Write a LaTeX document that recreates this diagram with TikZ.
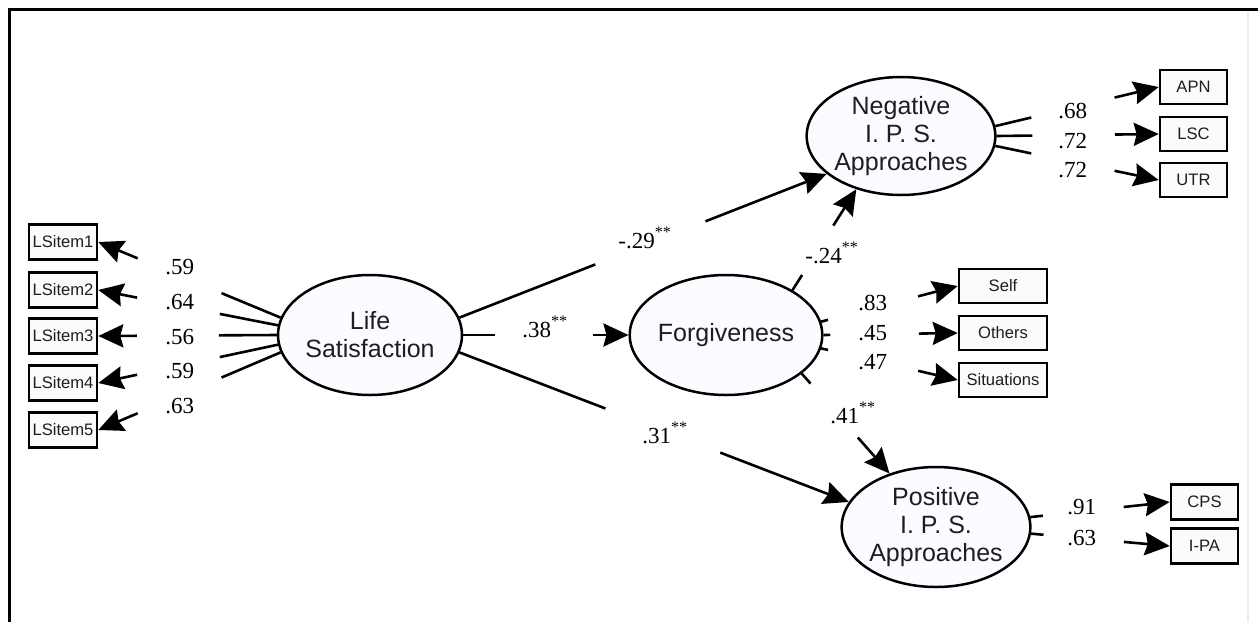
\documentclass[tikz,border=0pt]{standalone}
\usepackage{fontspec}
\setmainfont{Liberation Serif}
\newfontfamily\arialf{Liberation Sans}
\usetikzlibrary{shapes.geometric,arrows.meta,calc}
\definecolor{latfill}{RGB}{251,252,255}
\definecolor{obsfill}{RGB}{250,251,253}
\definecolor{txtgray}{RGB}{30,30,30}
\newcommand{\starsig}{\raisebox{5.5pt}{\fontsize{8}{8}\selectfont **}}
\tikzset{
  lat/.style={ellipse, draw, line width=1.25pt, fill=latfill, minimum width=92pt, minimum height=60pt,
    inner sep=0pt, align=center, text=txtgray, font=\arialf\fontsize{12.5}{14}\selectfont},
  obs/.style={rectangle, draw, line width=1.3pt, fill=obsfill, minimum height=17.5pt, inner sep=0pt,
    text=txtgray, font=\arialf\fontsize{8.3}{9}\selectfont},
  coef/.style={anchor=base west, inner sep=0pt, font=\fontsize{11.5}{12}\selectfont},
  ln/.style={line width=1.3pt},
  arr/.style={line width=1.3pt, -{Stealth[length=12.5pt,width=11.5pt,inset=1.5pt]}}
}
\begin{document}
\begin{tikzpicture}[x=0.5pt,y=-0.5pt]
\useasboundingbox (0,0) rectangle (1258,622);
% frame
\draw[line width=1.5pt] (8,9.5) -- (1258,9.5);
\draw[line width=1.5pt] (9.5,9.5) -- (9.5,622);
\draw[black!8, line width=1pt] (1248,12) -- (1248,622);

% latent variables
\node[lat] (ls) at (370,335) {Life\\Satisfaction};
\node[lat] (fg) at (726,335) {Forgiveness};
\node[lat, minimum height=59pt] (ng) at (901,136) {Negative\\I. P. S.\\Approaches};
\node[lat, minimum width=94pt] (ps) at (936,527) {Positive\\I. P. S.\\Approaches};

% observed variables
\node[obs, minimum width=34pt] (i1) at (63,242) {LSitem1};
\node[obs, minimum width=34pt] (i2) at (63,290) {LSitem2};
\node[obs, minimum width=34pt] (i3) at (63,336) {LSitem3};
\node[obs, minimum width=34pt] (i4) at (63,383) {LSitem4};
\node[obs, minimum width=34pt] (i5) at (63,430) {LSitem5};
\node[obs, minimum width=33.5pt, minimum height=17pt] (apn) at (1193.5,87) {APN};
\node[obs, minimum width=33.5pt, minimum height=17pt] (lsc) at (1193.5,134) {LSC};
\node[obs, minimum width=33.5pt, minimum height=17pt] (utr) at (1193.5,180) {UTR};
\node[obs, minimum width=44pt, minimum height=17pt] (self) at (1003,286) {Self};
\node[obs, minimum width=44pt, minimum height=17pt] (oth) at (1003,333) {Others};
\node[obs, minimum width=44pt, minimum height=17pt] (sit) at (1003,380) {Situations};
\node[obs, minimum width=33.5pt] (cps) at (1204.5,502) {CPS};
\node[obs, minimum width=33.5pt] (ipa) at (1204.5,546) {I-PA};

% Life Satisfaction indicators
\foreach \a/\b in {169/i1,174/i2,180/i3,186/i4,191/i5}{
  \draw[ln] (ls.\a) -- ($(ls.\a)!0.324!(\b.east)$);
  \draw[arr] ($(ls.\a)!0.784!(\b.east)$) -- (\b.east);
}
% Negative indicators
\foreach \a/\b in {6/apn,0/lsc,-6/utr}{
  \draw[ln] (ng.\a) -- ($(ng.\a)!0.22!(\b.west)$);
  \draw[arr] ($(ng.\a)!0.73!(\b.west)$) -- (\b.west);
}
% Forgiveness indicators
\foreach \a/\b in {8/self,0/oth,-8/sit}{
  \draw[ln] (fg.\a) -- ($(fg.\a)!0.05!(\b.west)$);
  \draw[arr] ($(fg.\a)!0.71!(\b.west)$) -- (\b.west);
}
% Positive indicators
\foreach \a/\b in {6/cps,-4/ipa}{
  \draw[ln] (ps.\a) -- ($(ps.\a)!0.09!(\b.west)$);
  \draw[arr] ($(ps.\a)!0.67!(\b.west)$) -- (\b.west);
}

% structural paths
\draw[ln] (ls.11) -- ($(ls.11)!0.37!(ng.207)$);
\draw[arr] ($(ls.11)!0.67!(ng.207)$) -- (ng.207);
\draw[ln] (ls.east) -- ($(ls.east)!0.19!(fg.west)$);
\draw[arr] ($(ls.east)!0.785!(fg.west)$) -- (fg.west);
\draw[ln] (ls.-11) -- ($(ls.-11)!0.375!(ps.164)$);
\draw[arr] ($(ls.-11)!0.67!(ps.164)$) -- (ps.164);
\draw[ln] (fg.34) -- ($(fg.34)!0.15!(ng.-130)$);
\draw[arr] ($(fg.34)!0.64!(ng.-130)$) -- (ng.-130);
\draw[ln] (fg.-27) -- ($(fg.-27)!0.1!(ps.131)$);
\draw[arr] ($(fg.-27)!0.64!(ps.131)$) -- (ps.131);

% loadings
\node[coef] (l1) at (165,274) {.59};
\node[coef] (l2) at (165,309) {.64};
\node[coef] (l3) at (165,344) {.56};
\node[coef] (l4) at (165,378) {.59};
\node[coef] (l5) at (165,413) {.63};
\node[coef] (n1) at (1058,118) {.68};
\node[coef] (n2) at (1058,148) {.72};
\node[coef] (n3) at (1058,177) {.72};
\node[coef] (f1) at (858,310) {.83};
\node[coef] (f2) at (858,340) {.45};
\node[coef] (f3) at (858,369) {.47};
\node[coef] (p1) at (1067,514) {.91};
\node[coef] (p2) at (1067,545) {.63};

% structural coefficients
\node[coef] (s1) at (618,248) {-.29\starsig};
\node[coef] (s2) at (522,337) {.38\starsig};
\node[coef] (s3) at (642,443) {.31\starsig};
\node[coef] (s4) at (805,263) {-.24\starsig};
\node[coef] (s5) at (830,423) {.41\starsig};
\end{tikzpicture}
\end{document}
